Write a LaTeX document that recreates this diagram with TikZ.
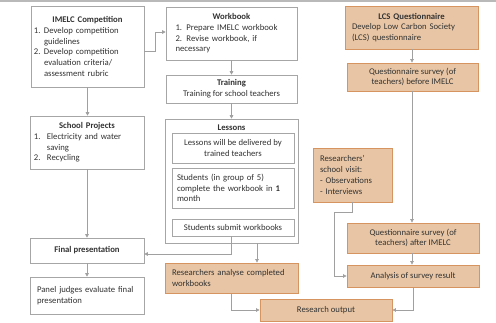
\documentclass[tikz,border=0pt]{standalone}
\usepackage{fontspec}
\setmainfont{Carlito}
\usetikzlibrary{arrows.meta}
\definecolor{boxline}{RGB}{166,166,166}
\definecolor{conn}{RGB}{160,160,160}
\definecolor{tanfill}{RGB}{232,198,165}
\definecolor{tanline}{RGB}{214,148,96}
\definecolor{txt}{RGB}{50,50,50}
\newcommand{\itm}[3]{\par\hangindent=#1\hangafter=1\noindent\makebox[#1][l]{#2}#3\par}
\tikzset{
  every node/.style={font=\fontsize{8.7}{10.7}\selectfont, text=txt},
  gbox/.style={draw=boxline, line width=0.6pt, fill=white, inner sep=0pt},
  obox/.style={draw=tanline, line width=0.8pt, fill=tanfill, inner sep=0pt},
  arr/.style={draw=conn, line width=0.7pt, -{Triangle[length=3.5pt,width=3.5pt]}},
}
\begin{document}
\begin{tikzpicture}[x=1pt,y=-1pt]
\useasboundingbox (0,0) rectangle (496,323);
\fill[gray!55] (0,0) rectangle (496,2.5);

% left column
\node[gbox, minimum width=113pt, minimum height=81pt, text width=107pt, align=left] (imelc) at (87.5,46.5)
 {{\centering\textbf{IMELC Competition}\par}%
  \itm{10pt}{1.}{Develop competition\newline guidelines}%
  \itm{10pt}{2.}{Develop competition\newline evaluation criteria/\newline assessment rubric}};
\node[gbox, minimum width=114pt, minimum height=53pt, text width=106pt, align=left] (school) at (87,142.5)
 {{\centering\textbf{School Projects}\par}%
  \itm{13pt}{1.}{Electricity and water\newline saving}%
  \itm{13pt}{2.}{Recycling}};
\node[gbox, minimum width=114pt, minimum height=25pt] (final) at (87,250.5) {\textbf{Final presentation}};
\node[gbox, minimum width=114pt, minimum height=37pt, text width=100pt, align=left] (panel) at (87,295.5)
 {Panel judges evaluate final\\ presentation};

% middle column
\node[gbox, minimum width=131pt, minimum height=53pt, text width=112pt, align=left] (workbook) at (231.5,33.5)
 {{\centering\textbf{Workbook}\par}%
  1. Prepare IMELC workbook\par
  2. Revise workbook, if\par
  necessary};
\node[gbox, minimum width=131pt, minimum height=28pt, align=center] (training) at (231.5,89)
 {\textbf{Training}\\ Training for school teachers};
\node[gbox, minimum width=133pt, minimum height=124pt] (lessons) at (231.5,181) {};
\node (lessonsT) at (231.5,127.5) {\textbf{Lessons}};
\node[gbox, minimum width=122pt, minimum height=30pt, align=center] (les1) at (233,148)
 {Lessons will be delivered by\\ trained teachers};
\node[gbox, minimum width=122pt, minimum height=40pt, text width=112pt, align=left] (les2) at (233,188)
 {Students (in group of 5)\\ complete the workbook in \textbf{1}\\ month};
\node[gbox, minimum width=122pt, minimum height=17pt] (sub) at (233,227.5) {Students submit workbooks};
\node[obox, minimum width=133pt, minimum height=30pt, text width=119pt, align=left] (analyse) at (231.5,278)
 {Researchers analyse completed\\ workbooks};
\node[obox, minimum width=132pt, minimum height=22pt] (output) at (326,310) {Research output};

% right column
\node[obox, minimum width=133pt, minimum height=43pt, text width=119pt, align=left] (lcs) at (411.5,27.5)
 {{\centering\textbf{LCS Questionnaire}\par}%
  Develop Low Carbon Society\par
  (LCS) questionnaire};
\node[obox, minimum width=131pt, minimum height=28pt, align=center] (qbefore) at (412.5,77)
 {Questionnaire survey (of\\ teachers) before IMELC};
\node[obox, minimum width=79pt, minimum height=54pt, text width=65pt, align=left] (visit) at (352.5,175)
 {Researchers'\\ school visit:\\ - Observations\\ - Interviews};
\node[obox, minimum width=132pt, minimum height=30pt, align=center] (qafter) at (413,238)
 {Questionnaire survey (of\\ teachers) after IMELC};
\node[obox, minimum width=132pt, minimum height=22pt] (analysis) at (413,276) {Analysis of survey result};

% connectors
\draw[arr] (imelc.east|-0,51) -- (155,51) |- (workbook.west|-0,32);
\draw[arr] (imelc.south) -- (imelc.south|-school.north);
\draw[arr] (workbook.south) -- (training.north);
\draw[arr] (training.south) -- (lessons.north);
\draw[arr] (school.south) -- (final.north);
\draw[arr] (final.south) -- (panel.north);
\draw[arr] (sub.south-|231,0) -- (231,254) -- (final.east|-0,254);
\draw[arr] (lessons.south-|257,0) -- (analyse.north-|257,0);
\draw[arr] (analyse.south-|231,0) |- (output.west);
\draw[arr] (lcs.south-|412,0) -- (qbefore.north-|412,0);
\draw[arr] (qbefore.south-|412,0) -- (qafter.north-|412,0);
\draw[arr] (visit.south-|352,0) -- (352,212) -- (334,212) |- (analysis.west);
\draw[arr] (qafter.south-|412,0) -- (analysis.north-|412,0);
\draw[arr] (analysis.south-|413,0) |- (output.east);
\end{tikzpicture}
\end{document}
